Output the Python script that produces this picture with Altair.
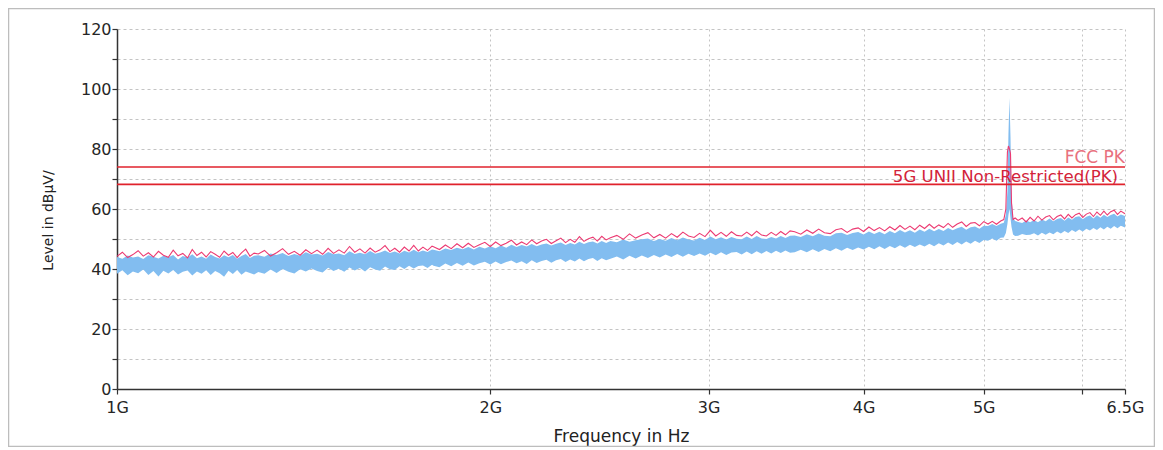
import altair as alt
import pandas as pd

# ---- frequency sweep points (MHz) ----
freq_a = [1000, 1010, 1020, 1030, 1040, 1050, 1060, 1070, 1080, 1090,
          1100, 1110, 1120, 1130, 1140, 1150, 1160, 1170, 1180, 1190,
          1200, 1210, 1220, 1230, 1240, 1250, 1260, 1270, 1280, 1290]
freq_b = [1300, 1315, 1330, 1345, 1360, 1375, 1390, 1405, 1420, 1435,
          1450, 1465, 1480, 1495, 1510, 1525, 1540, 1555, 1570, 1585,
          1600, 1615, 1630, 1645, 1660, 1675, 1690, 1705, 1720, 1735,
          1750, 1765, 1780, 1795]
freq_c = [1800, 1820, 1840, 1860, 1880, 1900, 1920, 1940, 1960, 1980,
          2000, 2020, 2040, 2060, 2080, 2100, 2120, 2140, 2160, 2180,
          2200, 2220, 2240, 2260, 2280, 2300, 2320, 2340, 2360, 2380,
          2400, 2420, 2440, 2460, 2480]
freq_d = [2500, 2530, 2560, 2590, 2620, 2650, 2680, 2710, 2740, 2770,
          2800, 2830, 2860, 2890, 2920, 2950, 2980, 3010, 3040, 3070,
          3100, 3130, 3160, 3190, 3220, 3250, 3280, 3310, 3340, 3370,
          3400, 3430, 3460, 3490]
freq_e = [3520, 3560, 3600, 3640, 3680, 3720, 3760, 3800, 3840, 3880,
          3920, 3960, 4000, 4040, 4080, 4120, 4160, 4200, 4240, 4280,
          4320, 4360, 4400, 4440, 4480, 4520, 4560, 4600, 4640, 4680,
          4720, 4760, 4800, 4840, 4880, 4920, 4960, 5000]
freq_f = [5040, 5080, 5120, 5160, 5190, 5210, 5225, 5235, 5245, 5255,
          5265, 5280, 5300]
freq_g = [5330, 5370, 5410, 5450, 5490, 5530, 5570, 5610, 5650, 5690,
          5730, 5770, 5810, 5850, 5890, 5930, 5970, 6010, 6050, 6090,
          6130, 6170, 6210, 6250, 6290, 6330, 6370, 6410, 6450, 6500]

# ---- peak trace (pink), dBuV/m ----
peak_a = [44.2, 45.6, 43.8, 44.8, 46.1, 44.3, 45.4, 44.0, 45.9, 44.6,
          43.9, 46.3, 44.4, 45.2, 43.7, 46.5, 44.5, 45.6, 44.0, 45.8,
          44.9, 43.9, 46.0, 44.6, 45.5, 43.8, 45.4, 46.6, 44.3, 45.3]
peak_b = [45.0, 46.2, 44.3, 45.4, 46.8, 44.9, 45.9, 44.6, 46.4, 45.1,
          46.3, 44.9, 46.9, 45.2, 46.4, 45.3, 47.5, 45.6, 46.7, 45.3,
          47.0, 45.6, 46.4, 47.8, 45.8, 46.9, 45.6, 47.3, 46.0, 47.9,
          46.0, 47.3, 46.2, 47.6]
peak_c = [47.4, 46.5, 48.0, 46.8, 48.4, 47.1, 48.6, 47.2, 48.1, 48.9,
          47.5, 49.0, 47.8, 48.6, 49.6, 48.0, 49.0, 48.1, 49.7, 48.4,
          49.3, 49.9, 48.5, 49.4, 50.3, 48.8, 49.9, 48.9, 50.8, 49.2,
          50.1, 50.6, 49.3, 50.9, 49.7]
peak_d = [50.4, 51.2, 49.9, 51.7, 50.3, 51.3, 52.1, 50.4, 51.5, 50.3,
          51.8, 50.6, 52.3, 51.0, 50.5, 51.9, 50.8, 52.9, 51.0, 52.2,
          50.9, 52.4, 51.2, 51.0, 52.3, 51.1, 52.6, 51.3, 51.0, 52.2,
          51.2, 52.5, 51.4, 52.7]
peak_e = [52.4, 51.6, 53.0, 51.9, 53.3, 52.1, 51.8, 53.1, 53.5, 52.2,
          53.3, 53.7, 52.5, 54.0, 52.8, 53.8, 52.7, 54.1, 53.0, 54.5,
          53.2, 54.3, 53.1, 54.6, 53.5, 54.9, 53.6, 54.7, 53.8, 55.2,
          53.9, 55.0, 55.7, 54.2, 55.3, 55.5, 54.4, 55.8]
peak_f = [55.0, 55.9, 54.9, 56.0, 56.5, 60.0, 79.0, 81.0, 80.0, 78.5,
          62.0, 56.5, 57.0]
peak_g = [56.2, 57.0, 55.7, 57.2, 56.0, 57.6, 56.3, 57.3, 57.8, 56.4,
          57.5, 58.0, 56.7, 58.2, 57.0, 58.1, 58.6, 57.2, 58.3, 58.8,
          57.5, 59.0, 57.9, 59.3, 58.0, 59.1, 59.6, 58.2, 59.3, 58.4]

# ---- average trace (blue band): upper edge ----
hi_a = [44.0, 43.4, 44.5, 43.8, 44.2, 43.3, 44.6, 44.1, 43.5, 44.4,
        43.9, 44.7, 43.2, 44.3, 43.8, 44.9, 43.6, 44.2, 43.4, 44.8,
        44.0, 43.5, 44.6, 43.9, 44.7, 43.4, 44.3, 45.0, 43.7, 44.4]
hi_b = [44.6, 44.1, 45.2, 44.7, 45.3, 44.3, 45.0, 44.4, 45.6, 44.8,
        45.1, 44.5, 45.7, 44.9, 45.2, 44.6, 45.9, 45.0, 45.4, 44.9,
        46.0, 45.1, 45.5, 46.2, 45.3, 45.8, 45.2, 46.1, 45.5, 46.4,
        45.6, 46.2, 45.7, 46.5]
hi_c = [46.4, 45.9, 46.8, 46.3, 47.1, 46.6, 47.3, 46.5, 47.4, 46.8,
        47.6, 46.9, 47.8, 47.1, 48.1, 47.3, 48.0, 47.5, 48.3, 47.6,
        48.2, 48.5, 47.8, 48.4, 48.8, 48.0, 48.7, 48.2, 49.1, 48.3,
        48.9, 49.2, 48.5, 49.3, 48.7]
hi_d = [49.3, 48.9, 49.8, 49.1, 49.6, 49.9, 50.2, 49.3, 50.0, 49.4,
        50.3, 49.6, 50.5, 49.8, 49.5, 50.4, 49.7, 50.8, 49.9, 50.6,
        49.8, 50.7, 50.1, 49.9, 50.8, 50.0, 51.0, 50.2, 50.0, 50.7,
        50.2, 51.0, 50.3, 51.1]
hi_e = [51.2, 50.7, 51.6, 50.9, 51.8, 51.1, 50.9, 51.9, 52.1, 51.3,
        52.0, 52.3, 51.5, 52.5, 51.7, 52.4, 51.6, 52.7, 51.9, 53.0,
        52.2, 52.9, 52.1, 53.2, 52.4, 53.4, 52.6, 53.3, 52.7, 53.7,
        52.9, 53.6, 54.1, 53.1, 53.9, 54.2, 53.4, 54.4]
hi_f = [54.3, 55.0, 54.3, 55.1, 55.4, 58.0, 66.0, 85.0, 97.0, 84.0,
        64.0, 57.0, 56.0]
hi_g = [55.7, 55.3, 56.2, 55.6, 56.3, 55.6, 56.5, 55.9, 56.8, 55.9,
        56.7, 57.0, 56.1, 57.2, 56.4, 57.3, 57.6, 56.6, 57.4, 57.8,
        56.8, 57.9, 57.1, 58.1, 57.3, 58.0, 58.4, 57.5, 58.2, 57.7]

# ---- average trace (blue band): lower edge ----
lo_a = [38.4, 39.6, 37.9, 39.2, 38.6, 39.8, 38.0, 39.3, 37.5, 39.4,
        38.5, 39.7, 38.2, 39.1, 39.5, 37.8, 39.2, 38.4, 39.6, 38.0,
        39.3, 38.6, 37.4, 39.4, 38.3, 39.7, 38.1, 39.2, 38.7, 38.2]
lo_b = [39.0, 38.4, 39.8, 38.7, 40.0, 39.1, 38.5, 39.9, 39.2, 40.2,
        39.3, 38.8, 40.4, 39.3, 40.1, 39.1, 40.5, 39.5, 40.3, 39.2,
        40.6, 39.8, 39.4, 40.8, 39.9, 39.7, 40.9, 40.0, 41.1, 40.2,
        41.0, 41.2, 40.3, 41.4]
lo_c = [41.1, 40.6, 41.8, 40.9, 42.0, 41.1, 42.2, 41.2, 41.9, 42.4,
        41.5, 42.5, 41.6, 42.3, 42.8, 41.9, 42.6, 41.7, 42.9, 42.0,
        42.7, 43.1, 42.1, 42.9, 43.3, 42.3, 43.2, 42.5, 43.5, 42.6,
        43.3, 43.7, 42.7, 43.6, 42.9]
lo_d = [43.4, 44.2, 43.2, 44.4, 43.5, 44.5, 43.7, 44.7, 43.8, 44.8,
        44.0, 45.0, 44.1, 45.1, 44.3, 45.2, 44.4, 45.4, 44.6, 45.6,
        44.7, 45.5, 45.7, 44.8, 45.8, 44.9, 45.9, 45.1, 46.0, 45.2,
        46.1, 45.3, 46.2, 45.4]
lo_e = [45.6, 46.4, 45.6, 46.6, 45.7, 46.7, 45.9, 46.9, 46.1, 47.1,
        46.3, 47.2, 46.5, 47.4, 46.6, 47.6, 46.7, 47.7, 46.9, 47.9,
        47.1, 48.1, 47.3, 48.2, 47.5, 48.4, 47.6, 48.6, 47.8, 48.8,
        48.0, 49.0, 48.2, 49.2, 48.4, 49.4, 48.7, 49.7]
lo_f = [49.4, 50.2, 49.4, 50.4, 50.5, 52.0, 55.0, 58.0, 60.0, 57.0,
        54.0, 51.5, 51.0]
lo_g = [51.1, 51.7, 51.3, 51.4, 51.9, 51.2, 52.1, 51.4, 52.2, 51.6,
        52.5, 51.8, 52.7, 52.0, 53.0, 52.3, 53.2, 52.5, 53.4, 52.8,
        53.7, 53.0, 53.9, 53.2, 54.1, 53.4, 54.3, 53.6, 54.4, 53.8]

# ---- limit lines ----
limit_names = ["FCC PK", "5G UNII Non-Restricted(PK)"]
limit_levels = [74.0, 68.2]

# ---- axis ticks ----
x_ticks = [1, 2, 3, 4, 5, 6, 6.5]
y_ticks = [0, 10, 20, 30, 40, 50, 60, 70, 80, 90, 100, 110, 120]

freq = freq_a + freq_b + freq_c + freq_d + freq_e + freq_f + freq_g
peak = peak_a + peak_b + peak_c + peak_d + peak_e + peak_f + peak_g
hi = hi_a + hi_b + hi_c + hi_d + hi_e + hi_f + hi_g
lo = lo_a + lo_b + lo_c + lo_d + lo_e + lo_f + lo_g

trace = pd.DataFrame({"f": [v / 1000 for v in freq], "peak": peak, "hi": hi, "lo": lo})
limits = pd.DataFrame({"name": limit_names, "level": limit_levels})

FONT = "DejaVu Sans"
BLUE = "#82bdf0"
PINK = "#ec3a72"
RED = "#e0222c"

x_axis = alt.Axis(
    values=x_ticks,
    labelExpr="datum.value == 6 ? '' : datum.value + 'G'",
    title="Frequency in Hz",
    grid=True, gridDash=[2, 3], gridColor="#c4c4c4",
    labelOverlap=False, labelBound=False, labelFlush=False,
    labelFontSize=16, labelPadding=5,
    titleFontSize=17, titleFontWeight="normal", titlePadding=13,
)
y_axis = alt.Axis(
    values=y_ticks,
    labelExpr="datum.value % 20 == 0 ? datum.value : ''",
    title="Level in dBµV/",
    grid=True, gridDash=[3, 3], gridColor="#c4c4c4",
    labelOverlap=False, labelFlush=False, labelFontSize=16, labelPadding=1,
    titleFontSize=14, titleFontWeight="normal",
    titleX=-69, titleY=191, titleAngle=270, titleAlign="center", titleBaseline="middle",
)
xs = alt.Scale(type="log", domain=[1, 6.5], nice=False)
ys = alt.Scale(domain=[0, 120], nice=False)

frame = alt.Chart(pd.DataFrame({"k": [0]})).mark_rect(
    fill="white", fillOpacity=0, stroke="#bdbdbd", strokeWidth=1.5
).encode(x=alt.value(-108.5), x2=alt.value(1037.5), y=alt.value(-20.5), y2=alt.value(417.5))

band = alt.Chart(trace).mark_area(color=BLUE, opacity=1).encode(
    x=alt.X("f:Q", scale=xs, axis=x_axis),
    y=alt.Y("lo:Q", scale=ys, axis=y_axis),
    y2="hi:Q",
)
peak_line = alt.Chart(trace).mark_line(color=PINK, strokeWidth=1.1).encode(
    x=alt.X("f:Q", scale=xs, axis=x_axis),
    y=alt.Y("peak:Q", scale=ys, axis=y_axis),
)
rules = alt.Chart(limits).mark_rule(color=RED, strokeWidth=1.6).encode(
    y=alt.Y("level:Q", scale=ys, axis=y_axis),
)
label_fcc = alt.Chart(limits).transform_filter(alt.datum.name == "FCC PK").mark_text(
    align="right", baseline="alphabetic", dx=0, dy=-4, font=FONT, fontSize=17, color="#e8707e"
).encode(x=alt.datum(6.5, scale=xs), y=alt.Y("level:Q", scale=ys, axis=y_axis), text="name:N")
label_unii = alt.Chart(limits).transform_filter(alt.datum.name != "FCC PK").mark_text(
    align="right", baseline="alphabetic", dx=-7, dy=-2, font=FONT, fontSize=16.6, color="#d3233a"
).encode(x=alt.datum(6.5, scale=xs), y=alt.Y("level:Q", scale=ys, axis=y_axis), text="name:N")

chart = alt.layer(frame, band, peak_line, rules, label_fcc, label_unii).properties(
    width=1008, height=360,
    autosize=alt.AutoSizeParams(type="none"),
    padding={"left": 109, "top": 21, "right": 30, "bottom": 58},
    background="white",
).configure_view(stroke="transparent").configure_axis(
    domainColor="#333333", domainWidth=1.5, tickColor="#333333", tickSize=5, tickWidth=1.2,
    labelFont=FONT, titleFont=FONT, labelColor="#262626", titleColor="#222222",
)

chart.save("out.html", embed_options={"renderer": "svg", "actions": False})
